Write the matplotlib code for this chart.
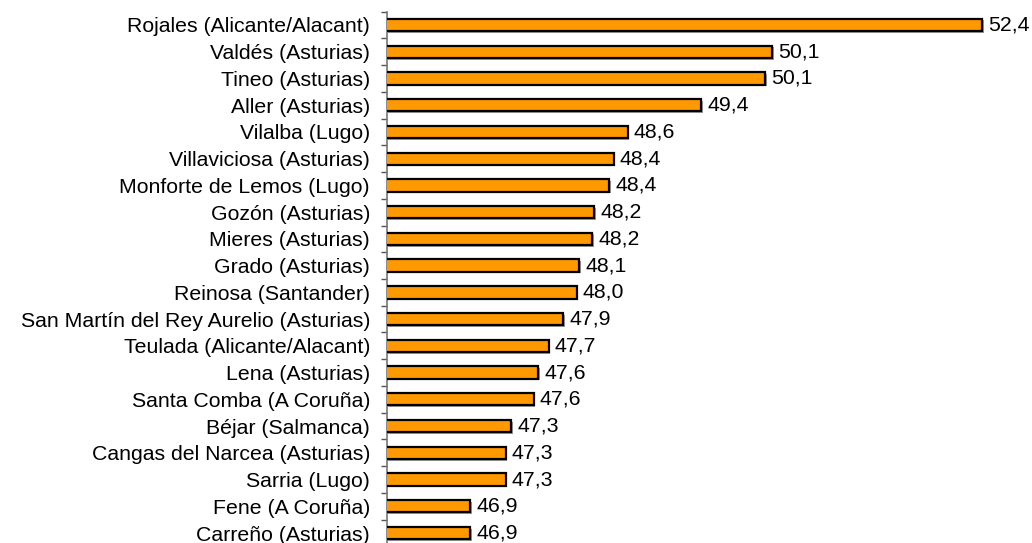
import matplotlib
matplotlib.use("Agg")
import matplotlib.pyplot as plt
import matplotlib.patheffects as pe
import numpy as np

# municipios y valores
municipios = [
    "Rojales (Alicante/Alacant)", "Valdés (Asturias)", "Tineo (Asturias)",
    "Aller (Asturias)", "Vilalba (Lugo)", "Villaviciosa (Asturias)",
    "Monforte de Lemos (Lugo)", "Gozón (Asturias)", "Mieres (Asturias)",
    "Grado (Asturias)", "Reinosa (Santander)",
    "San Martín del Rey Aurelio (Asturias)", "Teulada (Alicante/Alacant)",
    "Lena (Asturias)", "Santa Comba (A Coruña)", "Béjar (Salmanca)",
    "Cangas del Narcea (Asturias)", "Sarria (Lugo)", "Fene (A Coruña)",
    "Carreño (Asturias)",
]
valores = [52.4, 50.14, 50.07, 49.38, 48.59, 48.44, 48.39, 48.23, 48.21,
           48.07, 48.04, 47.90, 47.74, 47.63, 47.58, 47.34, 47.28, 47.28,
           46.90, 46.90]
etiquetas = ["52,4", "50,1", "50,1", "49,4", "48,6", "48,4", "48,4", "48,2",
             "48,2", "48,1", "48,0", "47,9", "47,7", "47,6", "47,6", "47,3",
             "47,3", "47,3", "46,9", "46,9"]

plt.rcParams["font.family"] = ["Liberation Sans", "DejaVu Sans"]

W, H = 1032, 543
fig = plt.figure(figsize=(W / 100, H / 100), dpi=100)
# ejes colocados en pixeles: x de 46 a 53, una fila cada ~26.7 px
left, top = 386.7, 11.6
px_unit = 93.04
fila = 26.74
n = len(municipios)
ax = fig.add_axes([left / W, 1 - (top + fila * n) / H,
                   7 * px_unit / W, fila * n / H])

y = np.arange(n)
bars = ax.barh(y, valores, height=0.46, left=0, color="#FF9900",
               edgecolor="black", linewidth=1.6, zorder=3)
for b in bars:
    b.set_path_effects([pe.SimplePatchShadow(offset=(1.2, -1.2),
                                             shadow_rgbFace="#999999", alpha=1),
                        pe.Normal()])

for yi, v, t in zip(y, valores, etiquetas):
    ax.text(v + 0.065, yi, t, va="center", ha="left", fontsize=15.3,
            color="black")

ax.set_xlim(46, 53)
ax.set_ylim(n - 0.5, -0.5)
ax.set_yticks(y)
ax.set_yticklabels(municipios, fontsize=15.3)
ax.set_yticks(np.arange(n + 1) - 0.5, minor=True)
ax.tick_params(axis="y", which="major", length=0, pad=12)
ax.tick_params(axis="y", which="minor", length=4, width=1, color="#555555")
ax.set_xticks([])
for s in ("top", "right", "bottom"):
    ax.spines[s].set_visible(False)
ax.spines["left"].set_color("#777777")
ax.spines["left"].set_linewidth(1.2)

fig.savefig("out.png", dpi=100)
